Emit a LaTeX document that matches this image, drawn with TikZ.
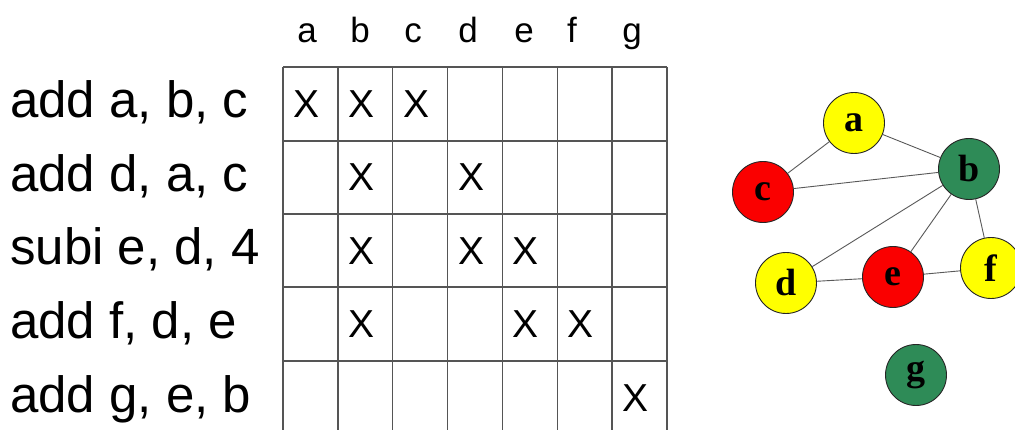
\documentclass[tikz,border=0pt]{standalone}
\usepackage{fontspec}
\setmainfont{Liberation Serif}
\setsansfont{Liberation Sans}
\usepackage{tikz}
\usetikzlibrary{positioning}
\definecolor{regyellow}{RGB}{255,255,0}
\definecolor{regred}{RGB}{250,0,0}
\definecolor{reggreen}{RGB}{46,139,87}
\definecolor{gridgray}{RGB}{85,85,85}

\begin{document}
\begin{tikzpicture}[x=1pt, y=-1pt,
 instr/.style={font=\sffamily\fontsize{51}{51}\selectfont, anchor=base west, inner sep=0pt},
 head/.style={font=\sffamily\fontsize{35}{35}\selectfont, anchor=base, inner sep=0pt},
 xmark/.style={font=\sffamily\fontsize{39}{39}\selectfont, inner sep=0pt},
 var/.style={circle, draw=black!85, line width=0.9pt, minimum size=61pt, inner sep=0pt, font=\rmfamily\bfseries\fontsize{38}{38}\selectfont},
 link/.style={draw=black!65, line width=0.9pt}]
 \clip (0,0) rectangle (1015,430);
 \fill[white] (0,0) rectangle (1015,430);
 % register table
 \foreach \i in {0,...,7}{
   \draw[gridgray, line width=1.4pt] ({283+54.86*\i},67) -- ({283+54.86*\i},440);
 }
 \foreach \y in {67,141,214,287,361}{
   \draw[gridgray, line width=1.4pt] (283,\y) -- (667,\y);
 }
 \foreach \c/\x in {a/307,b/360,c/413,d/468,e/524,f/572,g/632}{
   \node[head] (h\c) at (\x,43) {\c};
 }
 \foreach \r/\y/\t in {1/118/{add a, b, c}, 2/192/{add d, a, c}, 3/265/{subi e, d, 4}, 4/338/{add f, d, e}, 5/412/{add g, e, b}}{
   \node[instr] (i\r) at (10,\y) {\t};
 }
 \foreach \r/\c in {1/1,1/2,1/3,2/2,2/4,3/2,3/4,3/5,4/2,4/5,4/6,5/7}{
   \node[xmark] (x\r\c) at ({283+54.86*(\c-0.5)-4},{67+73.5*(\r-0.5)}) {X};
 }
 % interference graph
 \node[var, fill=regyellow] (a) at (854,123) {a};
 \node[var, fill=reggreen] (b) at (969,169) {b};
 \node[var, fill=regred] (c) at (763,192) {c};
 \node[var, fill=regyellow] (d) at (786,283) {d};
 \node[var, fill=regred] (e) at (893,277) {e};
 \node[var, fill=regyellow] (f) at (991,268) {f};
 \node[var, fill=reggreen] (g) at (916,375) {g};
 \draw[link] (a) -- (c);
 \draw[link] (a) -- (b);
 \draw[link] (c) -- (b);
 \draw[link] (d) -- (b);
 \draw[link] (e) -- (b);
 \draw[link] (f) -- (b);
 \draw[link] (d) -- (e);
 \draw[link] (e) -- (f);
\end{tikzpicture}
\end{document}
